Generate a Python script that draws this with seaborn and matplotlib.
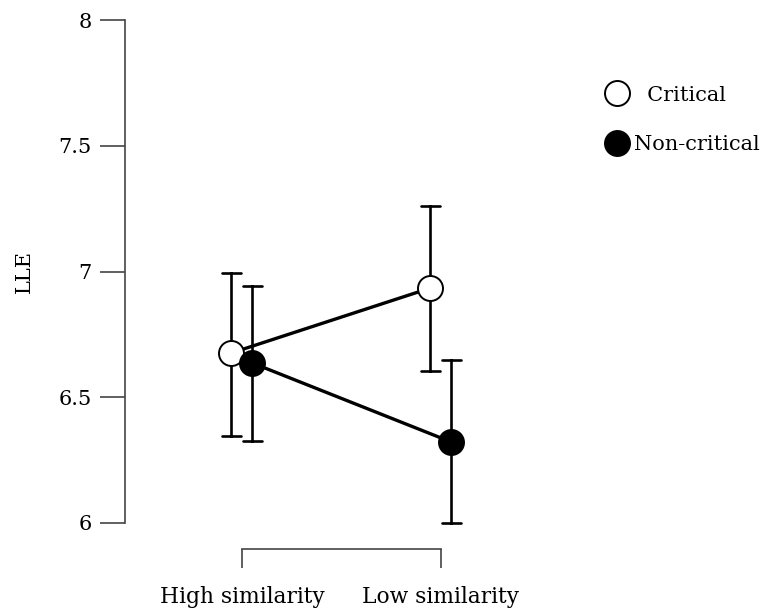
import matplotlib
matplotlib.use("Agg")
import matplotlib.pyplot as plt
from matplotlib.lines import Line2D
import seaborn as sns
import pandas as pd

# ---- data ----
similarity = ["High similarity", "Low similarity"]
conditions = ["Critical", "Non-critical"]
means = {"Critical": [6.676, 6.934], "Non-critical": [6.636, 6.322]}
lower = {"Critical": [6.346, 6.604], "Non-critical": [6.326, 6.000]}
upper = {"Critical": [6.994, 7.260], "Non-critical": [6.942, 6.648]}
yticks = [6, 6.5, 7, 7.5, 8]
ytick_labels = ["6", "6.5", "7", "7.5", "8"]

# long table: lower / mean / upper per cell -> median = mean, 100% interval = [lower, upper]
rows = []
for c in conditions:
    for i, s in enumerate(similarity):
        for v in (lower[c][i], means[c][i], upper[c][i]):
            rows.append({"similarity": s, "type": c, "LLE": v})
df = pd.DataFrame(rows)

sns.set_style("white")
plt.rcParams["font.family"] = ["DejaVu Serif"]
plt.rcParams["text.color"] = "black"
plt.rcParams["xtick.color"] = "black"
plt.rcParams["ytick.color"] = "black"
plt.rcParams["axes.labelcolor"] = "black"

fig = plt.figure(figsize=(7.65, 6.08), dpi=100)
ax = fig.add_axes([125 / 765, 1 - 523 / 608, (560 - 125) / 765, (523 - 20) / 608])

sns.pointplot(data=df, x="similarity", y="LLE", hue="type", order=similarity,
              hue_order=conditions, estimator="median", errorbar=("pi", 100),
              dodge=0.106, palette=["black", "black"], markers=["o", "o"],
              capsize=0.095, linewidth=2.4, err_kws={"linewidth": 1.9, "color": "black"},
              markersize=18, markeredgewidth=1.4, ax=ax, legend=False)

marker_lines = [l for l in ax.lines if l.get_marker() == "o"]
for l in ax.lines:
    l.set_clip_on(False)
    l.set_zorder(2)
for i, l in enumerate(marker_lines):
    l.set_zorder(4)
    l.set_markeredgecolor("black")
    l.set_markerfacecolor("white" if i == 0 else "black")

ax.set_xlim(-0.588, 1.6)
ax.set_ylim(6, 8)
ax.set_yticks(yticks)
ax.set_yticklabels(ytick_labels)
ax.set_xlabel("")
ax.set_ylabel("LLE", fontsize=15)
ax.yaxis.set_label_coords(-0.21, 0.5)

for side in ("top", "right"):
    ax.spines[side].set_visible(False)
ax.spines["left"].set_bounds(6, 8)
ax.spines["bottom"].set_position(("outward", 18.7))
ax.spines["bottom"].set_bounds(0, 1)
for side in ("left", "bottom"):
    ax.spines[side].set_color("#444444")
    ax.spines[side].set_linewidth(1.2)

ax.tick_params(axis="y", direction="out", length=18, width=1.2, color="#444444",
               pad=6, labelsize=15, left=True)
ax.tick_params(axis="x", direction="out", length=13.7, width=1.2, color="#444444",
               pad=13, labelsize=15.7, bottom=True)

handles = [Line2D([], [], marker="o", linestyle="none", markersize=18,
                  markerfacecolor=fc, markeredgecolor="black", markeredgewidth=1.4)
           for fc in ("white", "black")]
fig.legend(handles, ["  " + conditions[0], conditions[1]], loc="upper left",
           bbox_to_anchor=(582 / 765, 1 - 67 / 608), frameon=False, fontsize=15,
           handletextpad=0.0, labelspacing=1.45, handlelength=1.6)

fig.savefig("out.png", dpi=100)
